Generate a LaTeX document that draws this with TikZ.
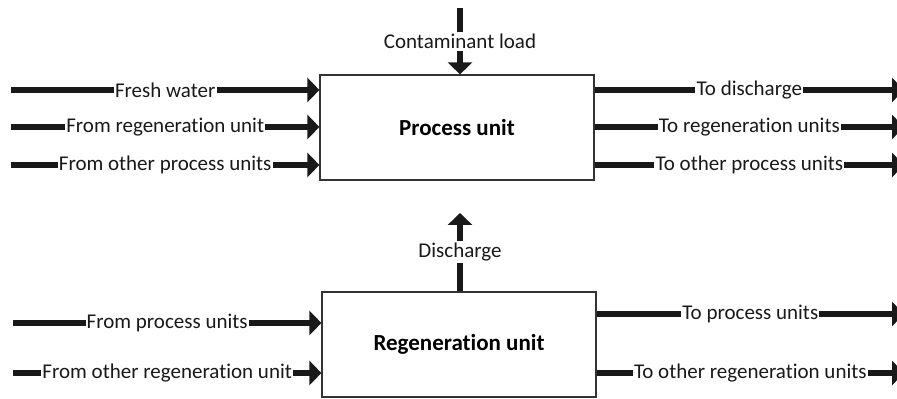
\documentclass[tikz,border=0pt]{standalone}
\usepackage{fontspec}
\setmainfont[Ligatures={TeX,NoCommon}]{Carlito}
\usetikzlibrary{positioning,arrows.meta}
\tikzset{>={Triangle[length=6pt,width=12pt]}}
\tikzset{
  unit/.style={draw=black!80,line width=.6pt,minimum width=137pt,minimum height=52.5pt,
    inner sep=0pt,font=\fontsize{11.5}{13}\selectfont\bfseries},
  flow/.style={->,line width=3pt,black!90},
  lbl/.style={fill=white,inner xsep=.6pt,inner ysep=1pt,font=\fontsize{10.5}{12}\selectfont}
}

\begin{document}
\begin{tikzpicture}[x=.5pt,y=.5pt]
\useasboundingbox (0,0) rectangle (897,399);
\node[unit] (pu) at (457,271.5) {Process unit};
\node[unit] (ru) at (459,54.5) {Regeneration unit};
% inflows, process unit
\coordinate (fw) at (11,309);
\coordinate (fr) at (11,272);
\coordinate (fo) at (11,234);
\draw[flow] (fw) -- node[lbl] (fwl) {Fresh water} (fw -| pu.west);
\draw[flow] (fr) -- node[lbl] (frl) {From regeneration unit} (fr -| pu.west);
\draw[flow] (fo) -- node[lbl] (fol) {From other process units} (fo -| pu.west);
% outflows, process unit
\coordinate (td) at (904,309);
\coordinate (tr) at (904,272);
\coordinate (to) at (904,234);
\draw[flow] (pu.east |- td) -- node[lbl] (tdl) {To discharge} (td);
\draw[flow] (pu.east |- tr) -- node[lbl] (trl) {To regeneration units} (tr);
\draw[flow] (pu.east |- to) -- node[lbl] (tol) {To other process units} (to);
% contaminant and discharge
\coordinate (cl) at (460,391);
\draw[flow] (cl) -- node[lbl] (cll) {Contaminant load} (cl |- pu.north);
\coordinate (dc) at (460,186);
\draw[flow] (dc |- ru.north) -- node[lbl] (dcl) {Discharge} (dc);
% regeneration unit
\coordinate (rp) at (13,76);
\coordinate (ro) at (13,26);
\draw[flow] (rp) -- node[lbl] (rpl) {From process units} (rp -| ru.west);
\draw[flow] (ro) -- node[lbl] (rol) {From other regeneration unit} (ro -| ru.west);
\coordinate (sp) at (904,85);
\coordinate (so) at (904,26);
\draw[flow] (ru.east |- sp) -- node[lbl] (spl) {To process units} (sp);
\draw[flow] (ru.east |- so) -- node[lbl] (sol) {To other regeneration units} (so);
\end{tikzpicture}
\end{document}
